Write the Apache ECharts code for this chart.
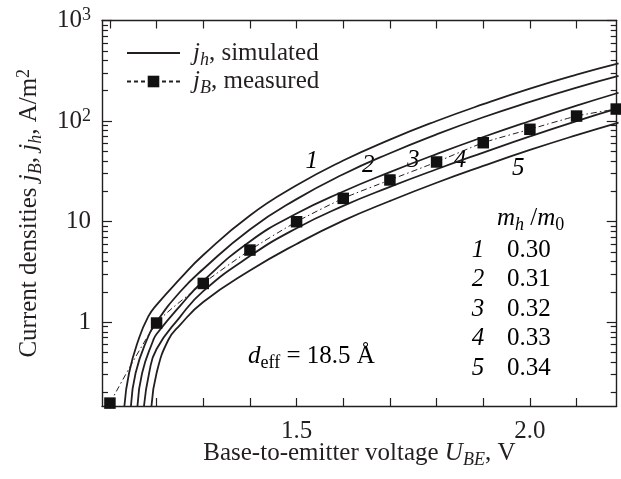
<!DOCTYPE html>
<html>
<head>
<meta charset="utf-8">
<script src="https://cdn.jsdelivr.net/npm/echarts@6/dist/echarts.min.js"></script>
<style>
  html, body { margin: 0; padding: 0; background: #fff; }
  #chart { width: 621px; height: 479px; }
</style>
</head>
<body>
<div id="chart"></div>
<script>
const FONT = '"Liberation Serif", "Times New Roman", serif'
const INK = '#231f20'

// measured j_B (squares), U_BE in V, j in A/m^2
const uMeasured = [1.1, 1.2, 1.3, 1.4, 1.5, 1.6, 1.7, 1.8, 1.9, 2.0, 2.1, 2.185]
const jMeasured = [0.156, 0.977, 2.42, 5.20, 9.95, 17.0, 25.9, 39.1, 60.8, 82.7, 112, 131.5]

// simulated j_h, one pair of arrays per curve (m_h/m_0 = 0.30 ... 0.34)
const uSim1 = [1.131, 1.141, 1.161, 1.182, 1.2, 1.25, 1.3, 1.4, 1.5, 1.6, 1.7, 1.8, 1.9, 2.0, 2.1, 2.19]
const jSim1 = [0.146, 0.311, 0.662, 1.13, 1.48, 2.68, 4.64, 11.5, 22.9, 40.4, 65.3, 100, 147, 210, 289, 374]
const uSim2 = [1.145, 1.155, 1.179, 1.2, 1.25, 1.3, 1.4, 1.5, 1.6, 1.7, 1.8, 1.9, 2.0, 2.1, 2.19]
const jSim2 = [0.146, 0.311, 0.662, 1.0, 1.99, 3.37, 8.34, 16.7, 29.5, 47.8, 73.6, 109, 155, 215, 281]
const uSim3 = [1.159, 1.169, 1.193, 1.2, 1.25, 1.3, 1.4, 1.5, 1.6, 1.7, 1.8, 1.9, 2.0, 2.1, 2.19]
const jSim3 = [0.146, 0.311, 0.662, 0.760, 1.44, 2.56, 6.34, 12.0, 19.9, 31.0, 46.9, 69.3, 100, 142, 191]
const uSim4 = [1.173, 1.184, 1.2, 1.25, 1.3, 1.4, 1.5, 1.6, 1.7, 1.8, 1.9, 2.0, 2.1, 2.19]
const jSim4 = [0.146, 0.311, 0.539, 1.12, 2.03, 4.53, 8.58, 14.3, 22.1, 33.1, 48.5, 70.3, 99.8, 134]
const uSim5 = [1.189, 1.2, 1.225, 1.25, 1.3, 1.4, 1.5, 1.6, 1.7, 1.8, 1.9, 2.0, 2.1, 2.19]
const jSim5 = [0.146, 0.311, 0.662, 0.933, 1.58, 3.25, 5.98, 10.2, 16.0, 24.3, 35.7, 51.5, 72.4, 96.6]

const curveNumbers = ['1', '2', '3', '4', '5']
const massRatios = ['0.30', '0.31', '0.32', '0.33', '0.34']

// axes
const xTicks = [1.1, 1.2, 1.3, 1.4, 1.5, 1.6, 1.7, 1.8, 1.9, 2.0, 2.1]
const xLabels = [1.5, 2.0]
const yMajor = [1, 10, 100, 1000]
const yMinor = [0.2, 0.3, 0.4, 0.5, 0.6, 0.7, 0.8, 0.9, 2, 3, 4, 5, 6, 7, 8, 9,
  20, 30, 40, 50, 60, 70, 80, 90, 200, 300, 400, 500, 600, 700, 800, 900]
const X_MIN = 1.083, X_MAX = 2.186
const Y_MIN = 0.146, Y_MAX = 1000

const lg = Math.log10

function richStyles(fs) {
  const base = {fontFamily: FONT, fontSize: fs, color: INK}
  return {
    t: base,
    i: Object.assign({}, base, {fontStyle: 'italic'}),
    ip: Object.assign({}, base, {fontStyle: 'italic', padding: [0, 0, 0, 8]}),
    sub: {fontFamily: FONT, fontSize: 18, fontStyle: 'italic', color: INK, padding: [14, 0, 0, 0]},
    subr: {fontFamily: FONT, fontSize: 18, color: INK, padding: [14, 0, 0, 0]},
    sup: {fontFamily: FONT, fontSize: 18, color: INK, padding: [0, 0, 10, 0]}
  }
}
const R = richStyles(25)

const simSets = [[uSim1, jSim1], [uSim2, jSim2], [uSim3, jSim3], [uSim4, jSim4], [uSim5, jSim5]]
const series = simSets.map(([u, j]) => ({
  type: 'line',
  name: 'jh',
  data: u.map((v, k) => [v, lg(j[k])]),
  symbol: 'none',
  smooth: 0.5,
  itemStyle: {color: INK},
  lineStyle: {color: INK, width: 1.8},
  silent: true
}))
series.push({
  type: 'line',
  name: 'jB',
  data: uMeasured.map((v, k) => [v, lg(jMeasured[k])]),
  symbol: 'rect',
  symbolSize: 11.5,
  smooth: 0.2,
  itemStyle: {color: '#111'},
  lineStyle: {color: INK, width: 1, type: [6, 3, 1.5, 3]},
  z: 5,
  silent: true
})

const frameLine = {show: true, onZero: false, lineStyle: {color: INK, width: 1.4}}
function xAxisDef(pos, withLabels) {
  return {
    type: 'value', position: pos, min: X_MIN, max: X_MAX,
    axisLine: frameLine,
    axisTick: {show: true, inside: true, length: 8, customValues: xTicks, lineStyle: {color: INK, width: 1.2}},
    axisLabel: withLabels
      ? {customValues: xLabels, formatter: v => v.toFixed(1), fontFamily: FONT, fontSize: 25, color: INK, margin: 13}
      : {show: false},
    splitLine: {show: false}
  }
}
function yAxisDef(pos, ticks, len, withLine, withLabels) {
  return {
    type: 'value', position: pos, min: lg(Y_MIN), max: lg(Y_MAX),
    axisLine: withLine ? frameLine : {show: false, onZero: false},
    axisTick: {show: true, inside: true, length: len, customValues: ticks.map(lg), lineStyle: {color: INK, width: 1.2}},
    axisLabel: withLabels ? {
      customValues: yMajor.map(lg),
      formatter: v => {
        const e = Math.round(v)
        return e === 0 ? '1' : e === 1 ? '10' : '{t|10}{sup|' + e + '}'
      },
      fontFamily: FONT, fontSize: 25, color: INK, margin: 11, rich: R
    } : {show: false},
    splitLine: {show: false}
  }
}

const xBottom = Object.assign(xAxisDef('bottom', true), {
  name: '{t|Base-to-emitter voltage }{i|U}{sub|BE}{t|, V}',
  nameLocation: 'middle', nameGap: 31, nameMoveOverlap: false,
  nameTextStyle: {rich: R, fontFamily: FONT, fontSize: 25, color: INK}
})
const yLeft = Object.assign(yAxisDef('left', yMajor, 10, true, true), {
  name: '{t|Current densities }{i|j}{sub|B}{t|, }{i|j}{sub|h}{t|, A/m}{sup|2}',
  nameLocation: 'middle', nameRotate: 90, nameGap: 57, nameMoveOverlap: false,
  nameTextStyle: {rich: R, fontFamily: FONT, fontSize: 25, color: INK}
})

// text annotations (pixel layout)
const curveLabelPos = [[311.7, 161.7], [368.3, 165], [413.3, 160], [460, 160], [518.3, 168.3]]
const tableTop = 250, tableStep = 29.6
const graphic = []
curveNumbers.forEach((n, k) => {
  graphic.push({type: 'text', x: curveLabelPos[k][0], y: curveLabelPos[k][1], silent: true,
    style: {text: '{i|' + n + '}', rich: R, align: 'center', verticalAlign: 'middle'}})
  graphic.push({type: 'text', x: 478, y: tableTop + k * tableStep, silent: true,
    style: {text: '{i|' + n + '}', rich: R, align: 'center', verticalAlign: 'middle'}})
  graphic.push({type: 'text', x: 507, y: tableTop + k * tableStep, silent: true,
    style: {text: '{t|' + massRatios[k] + '}', rich: R, align: 'left', verticalAlign: 'middle'}})
})
graphic.push({type: 'text', x: 497, y: 218, silent: true,
  style: {text: '{i|m}{sub|h}{t| /}{i|m}{subr|0}', rich: R, align: 'left', verticalAlign: 'middle'}})
graphic.push({type: 'text', x: 248, y: 356, silent: true,
  style: {text: '{i|d}{subr|eff}{t| = 18.5 Å}', rich: R, align: 'left', verticalAlign: 'middle'}})

const chart = echarts.init(document.getElementById('chart'), null, {renderer: 'canvas'})
chart.setOption({
  animation: false,
  backgroundColor: '#fff',
  grid: {left: 102, right: 4.3, top: 20.5, bottom: 73, outerBoundsMode: 'none', containLabel: false},
  legend: {
    left: 121, top: 35.5, orient: 'vertical', itemWidth: 53, itemHeight: 14.5, itemGap: 0,
    selectedMode: false,
    data: [{name: 'jh', itemStyle: {opacity: 0}}, {name: 'jB', lineStyle: {type: [4, 3]}}],
    formatter: n => n === 'jh' ? '{ip|j}{sub|h}{t|, simulated}' : '{ip|j}{sub|B}{t|, measured}',
    textStyle: {rich: R, fontFamily: FONT, fontSize: 25, color: INK}
  },
  xAxis: [xBottom, xAxisDef('top', false)],
  yAxis: [
    yLeft,
    yAxisDef('left', yMinor, 6, false, false),
    yAxisDef('right', yMajor, 10, true, false),
    yAxisDef('right', yMinor, 6, false, false)
  ],
  series: series,
  graphic: graphic
})
</script>
</body>
</html>
